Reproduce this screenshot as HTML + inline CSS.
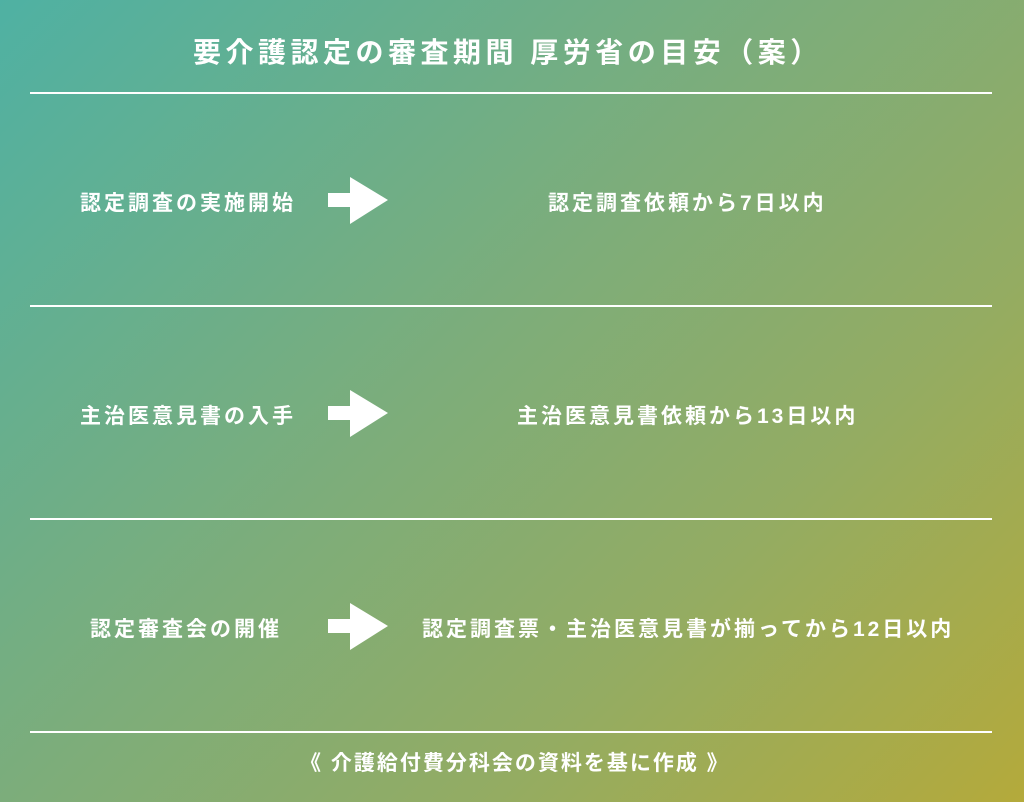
<!DOCTYPE html>
<html><head><meta charset="utf-8"><style>
body{margin:0;width:1024px;height:802px;overflow:hidden;background:linear-gradient(135deg,#4fb1a3 0%,#7dad7a 45%,#93ac63 70%,#b4aa3b 100%);font-family:"Liberation Sans","Noto Sans CJK JP",sans-serif;color:#fff;font-weight:bold;position:relative}
.t{position:absolute;white-space:nowrap;font-size:21px;letter-spacing:3px}
.line{position:absolute;left:30px;width:962px;height:2px;background:#fff}
svg{position:absolute;left:0;top:0}
</style></head><body>
<div class="t" style="left:193px;top:31px;font-size:28px;letter-spacing:4.5px">要介護認定の審査期間 厚労省の目安（案）</div>
<div class="line" style="top:92px"></div>
<div class="line" style="top:305px"></div>
<div class="line" style="top:518px"></div>
<div class="line" style="top:731px"></div>
<div class="t" style="left:80px;top:187px">認定調査の実施開始</div>
<div class="t" style="left:548px;top:187px">認定調査依頼から7日以内</div>
<div class="t" style="left:80px;top:400px">主治医意見書の入手</div>
<div class="t" style="left:517px;top:400px">主治医意見書依頼から13日以内</div>
<div class="t" style="left:90px;top:613px">認定審査会の開催</div>
<div class="t" style="left:422px;top:613px">認定調査票・主治医意見書が揃ってから12日以内</div>
<div class="t" style="left:300px;top:747px;letter-spacing:2px">《 介護給付費分科会の資料を基に作成 》</div>
<svg width="1024" height="802">
<g fill="#fff">
<polygon points="328,193 350,193 350,177 388,200 350,224 350,207 328,207"/>
<polygon points="328,406 350,406 350,390 388,413 350,437 350,420 328,420"/>
<polygon points="328,619 350,619 350,603 388,626 350,650 350,633 328,633"/>
</g></svg>
</body></html>
